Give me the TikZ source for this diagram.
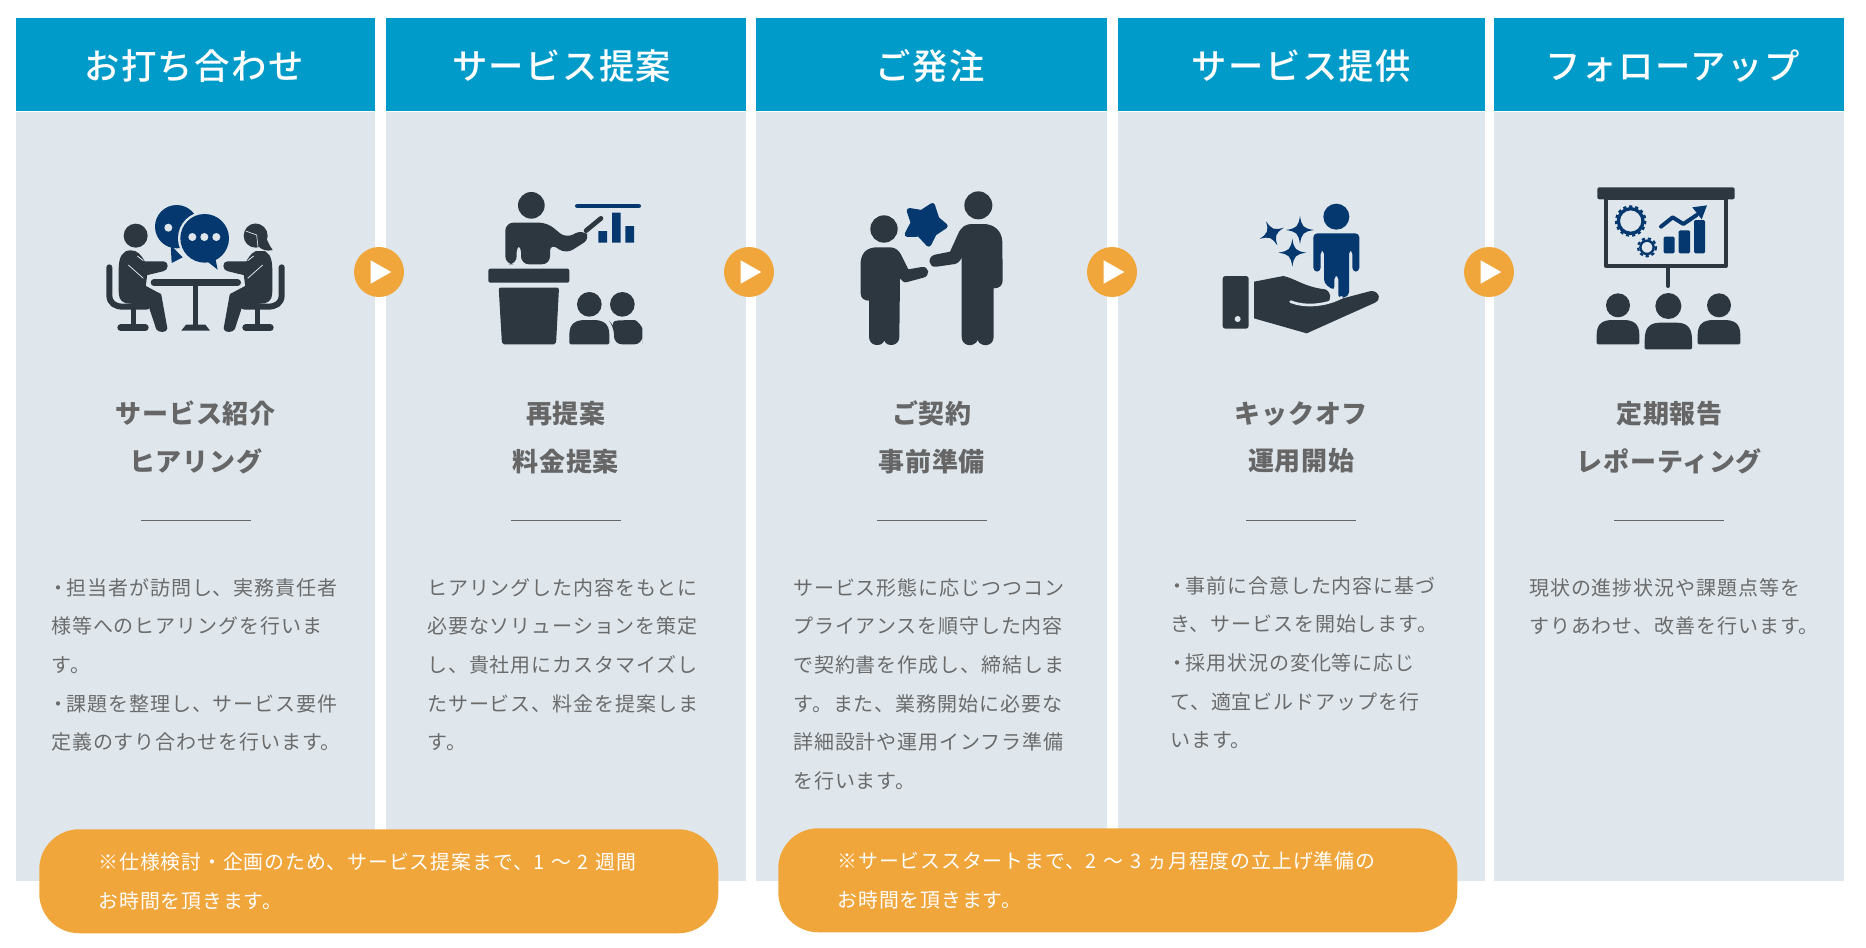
\documentclass[tikz,border=0pt]{standalone}
\usepackage{fontspec}
\usepackage{tikz}
\usetikzlibrary{positioning,calc}
\setmainfont{Noto Sans CJK JP}
\newfontfamily\jphead[LetterSpace=4]{Noto Sans CJK JP Medium}
\newfontfamily\jptitle[LetterSpace=3]{Noto Sans CJK JP}
\newfontfamily\jpbody[LetterSpace=4.5]{Noto Sans CJK JP}
\definecolor{myblue}{RGB}{0, 155, 201}
\definecolor{mypanel}{RGB}{223, 231, 237}
\definecolor{myorange}{RGB}{240, 166, 59}
\definecolor{mydark}{RGB}{45, 55, 64}
\definecolor{mynavy}{RGB}{5, 56, 111}
\definecolor{mygray}{RGB}{102, 102, 102}
\definecolor{mytext}{RGB}{107, 107, 107}
\newcommand*\dotmark{\hspace*{-2pt}・\hspace{-1.5pt}}
\tikzstyle{header}=[fill=myblue,text=white,minimum height=69.75pt,inner sep=0pt,text height=24pt,text depth=2.4pt,font=\jphead\fontsize{26.5}{30}\selectfont]
\tikzstyle{panel}=[fill=mypanel,minimum height=577pt,inner sep=0pt]
\tikzstyle{title}=[align=center,text=mygray,inner sep=0pt,font=\jptitle\bfseries\fontsize{19.5}{35.5}\selectfont]
\tikzstyle{rulebar}=[fill=mygray,minimum width=82.5pt,minimum height=.9pt,inner sep=0pt]
\tikzstyle{bodytext}=[anchor=north west,align=left,text=mytext,inner sep=0pt,font=\jpbody\fontsize{15}{29}\selectfont]
\tikzstyle{pill}=[fill=myorange,rounded corners=30pt,text=white,align=left,anchor=north west,minimum width=509.25pt,minimum height=78pt,text width=420.25pt,inner sep=0pt,inner xsep=44.5pt,font=\jpbody\fontsize{14.9}{29.5}\selectfont]
\tikzstyle{playbtn}=[circle,fill=myorange,minimum size=37.5pt,inner sep=0pt]
\tikzstyle{zoomed}=[x=.25pt,y=-.25pt]
\tikzstyle{ink}=[fill=mydark,draw=mydark,line join=round,line width=2pt]
\tikzstyle{bar}=[draw=mydark,line cap=round,line join=round]
\newcommand*\playicon[2]{
  \node (#1) [playbtn] at (#2,272) {};
  \fill[white] ({#2-8.3},260.3) -- ({#2-8.3},283.7) -- ({#2+12.3},272) -- cycle;
}
\newcommand*\bust[4]{
  \fill[mydark,rounded corners=1pt] ({#1-#2},#4) -- ({#1-#2},{#4-25}) .. controls ({#1-#2},{#3+8}) and ({#1-#2+22},#3) .. ({#1-#2+52},#3) -- ({#1+#2-52},#3) .. controls ({#1+#2-22},#3) and ({#1+#2},{#3+8}) .. ({#1+#2},{#4-25}) -- ({#1+#2},#4) -- cycle;
}
\newcommand*\sparkle[3]{
  \fill[mynavy] ({#1},{#2-#3}) .. controls ({#1+5},{#2-10}) and ({#1+10},{#2-5}) .. ({#1+#3},#2) .. controls ({#1+10},{#2+5}) and ({#1+5},{#2+10}) .. ({#1},{#2+#3}) .. controls ({#1-5},{#2+10}) and ({#1-10},{#2+5}) .. ({#1-#3},#2) .. controls ({#1-10},{#2-5}) and ({#1-5},{#2-10}) .. cycle;
}
\newcommand*\sitter{
  \draw[bar,line width=4.5pt] (88,292) -- (88,375) .. controls (88,400) and (105,410) .. (130,410) -- (200,410);
  \draw[bar,line width=4pt,line cap=butt] (160,410) -- (160,465);
  \draw[bar,line width=5pt] (122,473) -- (196,473);
  \draw[ink] (120,300) .. controls (120,262) and (130,245) .. (152,245) .. controls (172,245) and (180,258) .. (192,278) -- (250,278) .. controls (262,278) and (262,298) .. (248,300) -- (198,312) -- (193,350) -- (240,375) -- (258,475) .. controls (258,484) and (236,484) .. (232,475) -- (208,402) -- (140,396) .. controls (122,392) and (120,378) .. (120,362) -- cycle;
  \draw[mypanel,line width=.6pt] (145,285) -- (190,325) (172,258) -- (190,272);
}
\newcommand*\gearwheel[4]{
  \draw[mynavy,line width=#3] (#1,#2) circle (#4);
  \draw[mynavy,line width=1.6pt,dash pattern=on 2.4pt off 2.2pt] (#1,#2) circle ({#4+7});
}

\begin{document}
\begin{tikzpicture}[x=.75pt,y=-.75pt]
  \useasboundingbox (0,0) rectangle (1866,947);
  % headers
  \node (headA) [header,anchor=north west,minimum width=269.25pt] at (16,18) {\hspace*{-2.7pt}お打ち合わせ};
  \node (headB) [header,right=7.5pt of headA,minimum width=270pt] {\hspace*{-6.2pt}サービス提案};
  \node (headC) [header,right=7.5pt of headB,minimum width=263.25pt] {\hspace*{-2.7pt}ご発注};
  \node (headD) [header,right=7.5pt of headC,minimum width=275.25pt] {サービス提供};
  \node (headE) [header,right=6.75pt of headD,minimum width=262.5pt] {\hspace*{4.5pt}フォローアップ};
  % panels
  \node (panelA) [panel,below=0pt of headA,minimum width=269.25pt] {};
  \node (panelB) [panel,below=0pt of headB,minimum width=270pt] {};
  \node (panelC) [panel,below=0pt of headC,minimum width=263.25pt] {};
  \node (panelD) [panel,below=0pt of headD,minimum width=275.25pt] {};
  \node (panelE) [panel,below=0pt of headE,minimum width=262.5pt] {};
  % titles
  \node (titleA) [title,below=244.5pt of headA.south,anchor=center] {サービス紹介\\ヒアリング};
  \node (titleB) [title,below=244.5pt of headB.south,anchor=center] {再提案\\料金提案};
  \node (titleC) [title,below=244.5pt of headC.south,anchor=center] {ご契約\\事前準備};
  \node (titleD) [title,below=244.5pt of headD.south,anchor=center] {キックオフ\\運用開始};
  \node (titleE) [title,below=244.5pt of headE.south,anchor=center] {定期報告\\レポーティング};
  \node (ruleA) [rulebar,below=306.75pt of headA.south,anchor=center] {};
  \node (ruleB) [rulebar,below=306.75pt of headB.south,anchor=center] {};
  \node (ruleC) [rulebar,below=306.75pt of headC.south,anchor=center] {};
  \node (ruleD) [rulebar,below=306.75pt of headD.south,anchor=center] {};
  \node (ruleE) [rulebar,below=306.75pt of headE.south,anchor=center] {};
  % body text
  \node (bodyA) [bodytext] at (51,578) {\dotmark 担当者が訪問し、実務責任者\\様等へのヒアリングを行いま\\す。\\\dotmark 課題を整理し、サービス要件\\定義のすり合わせを行います。};
  \node (bodyB) [bodytext] at (427,578) {ヒアリングした内容をもとに\\必要なソリューションを策定\\し、貴社用にカスタマイズし\\たサービス、料金を提案しま\\す。};
  \node (bodyC) [bodytext] at (793,578) {サービス形態に応じつつコン\\プライアンスを順守した内容\\で契約書を作成し、締結しま\\す。また、業務開始に必要な\\詳細設計や運用インフラ準備\\を行います。};
  \node (bodyD) [bodytext] at (1170,576) {\dotmark 事前に合意した内容に基づ\\き、サービスを開始します。\\\dotmark 採用状況の変化等に応じ\\て、適宜ビルドアップを行\\います。};
  \node (bodyE) [bodytext] at (1529,578) {現状の進捗状況や課題点等を\\すりあわせ、改善を行います。};
  % notes
  \node (noteA) [pill] at (39,829) {※仕様検討・企画のため、サービス提案まで、1 ～ 2 週間\\お時間を頂きます。};
  \node (noteB) [pill] at (778,828) {※サービススタートまで、2 ～ 3 ヵ月程度の立上げ準備の\\お時間を頂きます。};
  % play buttons
  \playicon{playA}{379}
  \playicon{playB}{749}
  \playicon{playC}{1112}
  \playicon{playD}{1489}
  % meeting icon
  \begin{scope}[shift={(80,170)},zoomed]
    \fill[mydark] (167,197) circle (36);
    \sitter
    \begin{scope}[shift={(693,0)},xscale=-1]
      \sitter
    \end{scope}
    \fill[mypanel] (490,235) rectangle (580,244);
    \fill[mydark] (527,197) circle (36);
    \fill[mydark] (495,185) .. controls (500,165) and (520,158) .. (535,162) .. controls (555,168) and (552,205) .. (578,240) .. controls (560,245) and (545,240) .. (532,226) -- (505,190) -- cycle;
    \draw[mypanel,line width=.5pt] (497,183) -- (530,195) -- (534,232);
    \draw[bar,line width=5pt] (222,338) -- (473,338);
    \draw[bar,line width=4pt,line cap=butt] (347,338) -- (347,470);
    \fill[mydark] (304,482) -- (318,464) -- (376,464) -- (390,482) -- cycle;
    \fill[mynavy] (290,170) circle (65);
    \fill[mynavy] (272,225) -- (275,279) -- (308,262) -- cycle;
    \fill[mynavy,draw=mypanel,line width=3pt] (374,205) circle (74);
    \fill[mynavy] (374,205) circle (73);
    \fill[mynavy] (370,265) -- (413,299) -- (404,255) -- cycle;
    \fill[mypanel] (265,173) circle (12) (337,201) circle (12) (373,201) circle (12) (409,201) circle (12);
  \end{scope}
  % presentation icon
  \begin{scope}[shift={(460,170)},zoomed]
    \fill[mydark] (214,106) circle (40);
    \fill[mydark,rounded corners=6pt] (136,283) -- (136,158) -- (262,158) -- (318,205) -- (368,178) -- (392,205) -- (318,252) -- (270,220) -- (270,283) -- (183,283) -- (183,222) -- (170,222) -- (170,283) -- cycle;
    \draw[bar,line width=3.5pt] (378,182) -- (423,145);
    \fill[mydark,rounded corners=1.5pt] (85,296) rectangle (328,338);
    \fill[mydark,rounded corners=1.5pt] (116,353) -- (297,353) -- (288,523) -- (126,523) -- cycle;
    \fill[mydark] (388,403) circle (37) (487,403) circle (37);
    \bust{388}{60}{450}{523}
    \fill[mydark,rounded corners=6pt] (462,523) -- (462,470) -- (448,453) -- (500,450) .. controls (530,450) and (547,470) .. (547,500) -- (547,523) -- cycle;
    \draw[bar,draw=mynavy,line width=3.5pt] (352,108) -- (536,108);
    \fill[mynavy] (415,183) rectangle (441,218) (456,128) rectangle (482,218) (496,168) rectangle (522,218);
  \end{scope}
  % handshake icon
  \begin{scope}[shift={(830,170)},zoomed]
    \fill[mydark] (162,177) circle (41) (445,106) circle (42);
    \fill[mydark] (92,370) -- (92,275) .. controls (95,245) and (115,232) .. (140,232) -- (180,232) .. controls (195,232) and (205,240) .. (212,252) -- (235,298) -- (275,291) .. controls (298,288) and (302,318) .. (280,323) -- (232,336) .. controls (222,340) and (215,332) .. (210,325) -- (208,500) .. controls (208,530) and (170,532) .. (163,512) .. controls (155,532) and (117,530) .. (117,500) -- (117,392) .. controls (103,392) and (92,385) .. (92,370) -- cycle;
    \fill[mydark] (517,215) .. controls (515,180) and (490,162) .. (460,162) -- (430,162) .. controls (405,162) and (395,170) .. (385,190) -- (360,245) -- (315,254) .. controls (290,260) and (295,295) .. (320,290) -- (375,282) .. controls (385,280) and (392,270) .. (395,262) -- (395,500) .. controls (395,532) and (435,532) .. (443,510) .. controls (450,532) and (491,532) .. (491,500) -- (491,355) .. controls (510,355) and (518,345) .. (518,330) -- cycle;
    \fill[mynavy,draw=mynavy,line width=4pt,line join=round] (307,107) -- (320,147) -- (345,168) -- (312,190) -- (296,222) -- (268,192) -- (232,193) -- (250,158) -- (238,122) -- (275,128) -- cycle;
  \end{scope}
  % service icon
  \begin{scope}[shift={(1200,170)},zoomed]
    \fill[mynavy] (409,140) circle (39);
    \fill[mynavy,rounded corners=3pt] (340,305) -- (340,190) -- (478,190) -- (478,305) -- (457,305) -- (457,240) -- (447,240) -- (447,378) -- (415,387) -- (415,316) -- (403,316) -- (403,362) -- (372,340) -- (372,240) -- (362,240) -- (362,305) -- cycle;
    \sparkle{300}{180}{42}
    \sparkle{277}{248}{42}
    \begin{scope}[rotate around={25:(215,190)}]
      \sparkle{215}{190}{40}
    \end{scope}
    \fill[mydark,rounded corners=2pt] (68,318) rectangle (146,476);
    \fill[mypanel] (113,447) circle (9);
    \fill[mydark] (162,335) -- (250,318) .. controls (285,325) and (310,350) .. (375,358) .. controls (395,365) and (395,390) .. (380,400) -- (410,390) -- (505,365) .. controls (530,355) and (550,385) .. (525,398) -- (320,490) -- (162,445) -- cycle;
    \draw[mypanel,line width=2pt,line cap=round] (272,395) .. controls (310,410) and (370,410) .. (425,382);
  \end{scope}
  % report icon
  \begin{scope}[shift={(1560,170)},zoomed]
    \draw[mydark,line width=3pt,line join=round] (138,85) rectangle (497,288);
    \fill[mydark,rounded corners=1.5pt] (112,52) rectangle (524,88);
    \draw[bar,line width=3pt] (324,290) -- (324,348);
    \gearwheel{212}{153}{2.5pt}{37}
    \gearwheel{261}{232}{1.8pt}{20}
    \draw[bar,draw=mynavy,line width=3pt] (303,170) -- (338,142) -- (370,162) -- (410,135);
    \fill[mynavy] (397,112) -- (441,106) -- (425,148) -- cycle;
    \fill[mynavy,rounded corners=1pt] (311,200) rectangle (344,250) (356,181) rectangle (390,250) (402,150) rectangle (435,250);
    \fill[mydark] (174,406) circle (36) (325,408) circle (39) (477,406) circle (36);
    \bust{174}{64}{450}{523}
    \bust{325}{71}{458}{538}
    \bust{477}{64}{450}{523}
  \end{scope}
\end{tikzpicture}
\end{document}
